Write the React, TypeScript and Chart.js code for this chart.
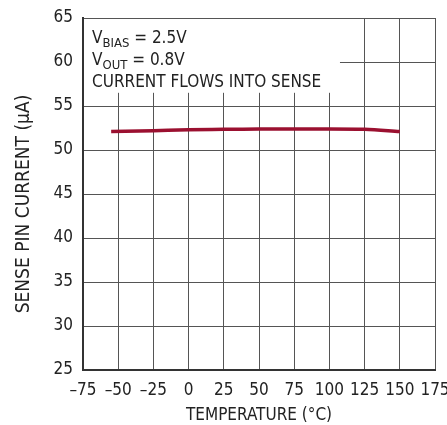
import React, { useEffect, useRef } from "react";
import { Chart, registerables } from "chart.js";

Chart.register(...registerables);

const temps = [-55, -25, 0, 25, 50, 75, 100, 125, 150];
const current = [52.1, 52.2, 52.3, 52.35, 52.4, 52.4, 52.4, 52.35, 52.1];
const xTicks = [-75, -50, -25, 0, 25, 50, 75, 100, 125, 150, 175];
const yTicks = [25, 30, 35, 40, 45, 50, 55, 60, 65];
const xTitle = "TEMPERATURE (°C)";
const yTitle = "SENSE PIN CURRENT (µA)";

const FONT = "'Liberation Sans Narrow', 'DejaVu Sans Condensed', sans-serif";
const FS = 17;

const annot = {
  id: "annot",
  beforeDatasetsDraw(chart: any) {
    const ctx = chart.ctx;
    const ca = chart.chartArea;
    const x = chart.scales.x;
    const y = chart.scales.y;
    ctx.save();
    ctx.fillStyle = "#fff";
    const r = x.getPixelForValue(107.5);
    const b = y.getPixelForValue(56.5);
    ctx.fillRect(ca.left + 1, ca.top + 1, r - ca.left - 1, b - ca.top - 1);
    ctx.fillStyle = "#222";
    ctx.textBaseline = "alphabetic";
    ctx.textAlign = "left";
    const lx = ca.left + 9;
    const drawSub = (main: string, sub: string, rest: string, by: number) => {
      ctx.font = `${FS}px ${FONT}`;
      ctx.fillText(main, lx, by);
      let w = ctx.measureText(main).width;
      ctx.font = `${FS - 4}px ${FONT}`;
      ctx.fillText(sub, lx + w, by + 4);
      w += ctx.measureText(sub).width;
      ctx.font = `${FS}px ${FONT}`;
      ctx.fillText(rest, lx + w, by);
    };
    drawSub("V", "BIAS", " = 2.5V", 43);
    drawSub("V", "OUT", " = 0.8V", 65);
    ctx.font = `${FS}px ${FONT}`;
    ctx.fillText("CURRENT FLOWS INTO SENSE", lx, 87);
    ctx.restore();
  },
  afterDraw(chart: any) {
    const ctx = chart.ctx;
    const ca = chart.chartArea;
    ctx.save();
    ctx.fillStyle = "#222";
    ctx.textAlign = "center";
    ctx.textBaseline = "middle";
    ctx.font = `17px ${FONT}`;
    ctx.fillText(xTitle, (ca.left + ca.right) / 2, 416);
    ctx.font = `19px ${FONT}`;
    ctx.translate(24, 204);
    ctx.rotate(-Math.PI / 2);
    ctx.fillText(yTitle, 0, 0);
    ctx.restore();
  },
};

export default function App() {
  const ref = useRef<HTMLCanvasElement>(null);
  useEffect(() => {
    const chart = new Chart(ref.current!, {
      type: "line",
      data: {
        datasets: [
          {
            data: temps.map((t, i) => ({ x: t, y: current[i] })),
            borderColor: "#9b1030",
            borderWidth: 3.5,
            pointRadius: 0,
            tension: 0.4,
            cubicInterpolationMode: "monotone",
          },
        ],
      },
      options: {
        animation: false,
        responsive: false,
        layout: { padding: { top: 18, right: 12, left: 0, bottom: 0 } },
        plugins: { legend: { display: false }, tooltip: { enabled: false } },
        scales: {
          x: {
            type: "linear",
            min: -75,
            max: 175,
            afterBuildTicks: (s: any) => {
              s.ticks = xTicks.map((v) => ({ value: v }));
            },
            afterFit: (s: any) => {
              s.height = 55;
              s.paddingLeft = 0;
              s.paddingRight = 0;
            },
            grid: { color: "#555", lineWidth: 1, drawTicks: false },
            border: { color: "#333", width: 2 },
            ticks: {
              autoSkip: false,
              maxRotation: 0,
              padding: 10,
              color: "#222",
              font: { family: FONT, size: FS },
              callback: (v: any) => (v < 0 ? "\u2013" + Math.abs(v) : String(v)),
            },
          },
          y: {
            type: "linear",
            min: 25,
            max: 65,
            afterBuildTicks: (s: any) => {
              s.ticks = yTicks.map((v) => ({ value: v }));
            },
            afterFit: (s: any) => {
              s.width = 83;
              s.paddingTop = 0;
              s.paddingBottom = 0;
            },
            grid: { color: "#555", lineWidth: 1, drawTicks: false },
            border: { color: "#333", width: 2 },
            ticks: {
              padding: 10,
              color: "#222",
              font: { family: FONT, size: FS },
            },
          },
        },
      },
      plugins: [annot],
    } as any);
    return () => chart.destroy();
  }, []);
  return (
    <div style={{ position: "fixed", left: 0, top: 0, width: 447, height: 425, background: "#fff" }}>
      <canvas ref={ref} width={447} height={425} style={{ width: 447, height: 425 }} />
    </div>
  );
}
